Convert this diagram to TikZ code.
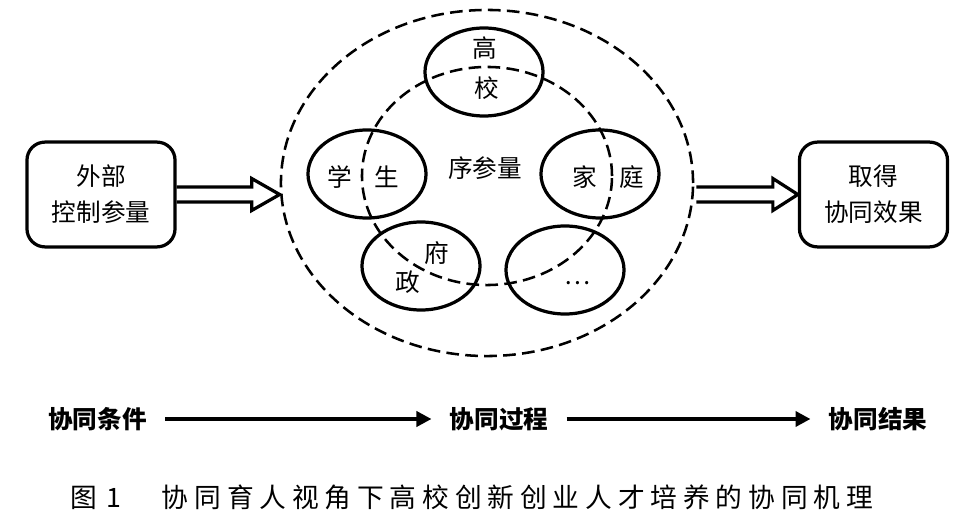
\documentclass[tikz,border=0pt]{standalone}
\usepackage{fontspec}
\setmainfont{Noto Sans CJK SC}
\usetikzlibrary{shapes.geometric,arrows.meta,calc}

\begin{document}
\begin{tikzpicture}[x = 0.025cm, y = -0.025cm,
	box/.style = {draw, line width = 2.3pt, rounded corners = 0.45cm, minimum width = 3.7cm, minimum height = 2.62cm, align = center, font = \fontsize{17.5}{25.6}\selectfont},
	agent/.style = {draw, ellipse, line width = 2.3pt, minimum width = 2.95cm, minimum height = 2.2cm, inner sep = 0pt},
	zone/.style = {draw, ellipse, line width = 1.8pt, dash pattern = on 9pt off 4.5pt, inner sep = 0pt},
	word/.style = {font = \fontsize{17.5}{20}\selectfont, inner sep = 0pt},
	stage/.style = {font = \fontsize{17.5}{20}\selectfont\bfseries, inner xsep = 0.45cm, inner ysep = 0pt},
	flow/.style = {line width = 2.6pt, -{Triangle[length = 0.375cm, width = 0.375cm]}},
	hollow/.style = {line width = 2.3pt, line join = miter}]
\useasboundingbox (0,0) rectangle (975,525);

% dashed zones
\node[zone, minimum width = 10.3cm, minimum height = 8.65cm] (whole) at (487,183) {};
\node[zone, minimum width = 6.25cm, minimum height = 5.45cm] (core) at (487,176) {};
\node[word] (order) at (485,168) {序参量};

% the five agents
\foreach \name/\x/\y in {uni/484/72, stu/367/174, fam/600/174, gov/421/266, other/565/270}
{
	\node[agent] (\name) at (\x,\y) {};
}
\foreach \name/\x/\y/\txt in {gao/485/48/高, xiao/487/88/校, xue/340/177/学, sheng/387/177/生, jia/585/177/家, ting/632/177/庭, fu/437/253/府, zheng/408/282/政, etc/578/283/…}
{
	\node[word] (\name) at (\x,\y) {\txt};
}

% input and output
\node[box] (ctrl) at (101,194.5) {外部\\控制参量};
\node[box] (effect) at (873.5,194.5) {取得\\协同效果};

\coordinate (ltip) at (ctrl.east -| whole.west);
\draw[hollow] ($(ctrl.east)+(0,-7.5)$) -- ($(ltip)+(-28,-7.5)$) -- ($(ltip)+(-28,-16)$) -- (ltip)
	-- ($(ltip)+(-28,16)$) -- ($(ltip)+(-28,7.5)$) -- ($(ctrl.east)+(0,7.5)$);
\coordinate (rtail) at (effect.west -| whole.east);
\draw[hollow] ($(rtail)+(2,-7.5)$) -- ($(effect.west)+(-25,-7.5)$) -- ($(effect.west)+(-25,-16)$) -- (effect.west)
	-- ($(effect.west)+(-25,16)$) -- ($(effect.west)+(-25,7.5)$) -- ($(rtail)+(2,7.5)$);

% stages
\node[stage] (cond) at (97.5,419) {协同条件};
\node[stage] (proc) at (499,419) {协同过程};
\node[stage] (result) at (878,419) {协同结果};
\draw[flow] (cond) -- (proc);
\draw[flow] (proc) -- (result);

\node[font = \fontsize{19}{22}\selectfont, anchor = west, inner sep = 0pt] (caption) at (70,497)
	{图\hspace{0.25cm}1\hspace{1.0cm}\addfontfeature{LetterSpace=22}协同育人视角下高校创新创业人才培养的协同机理};
\end{tikzpicture}
\end{document}
